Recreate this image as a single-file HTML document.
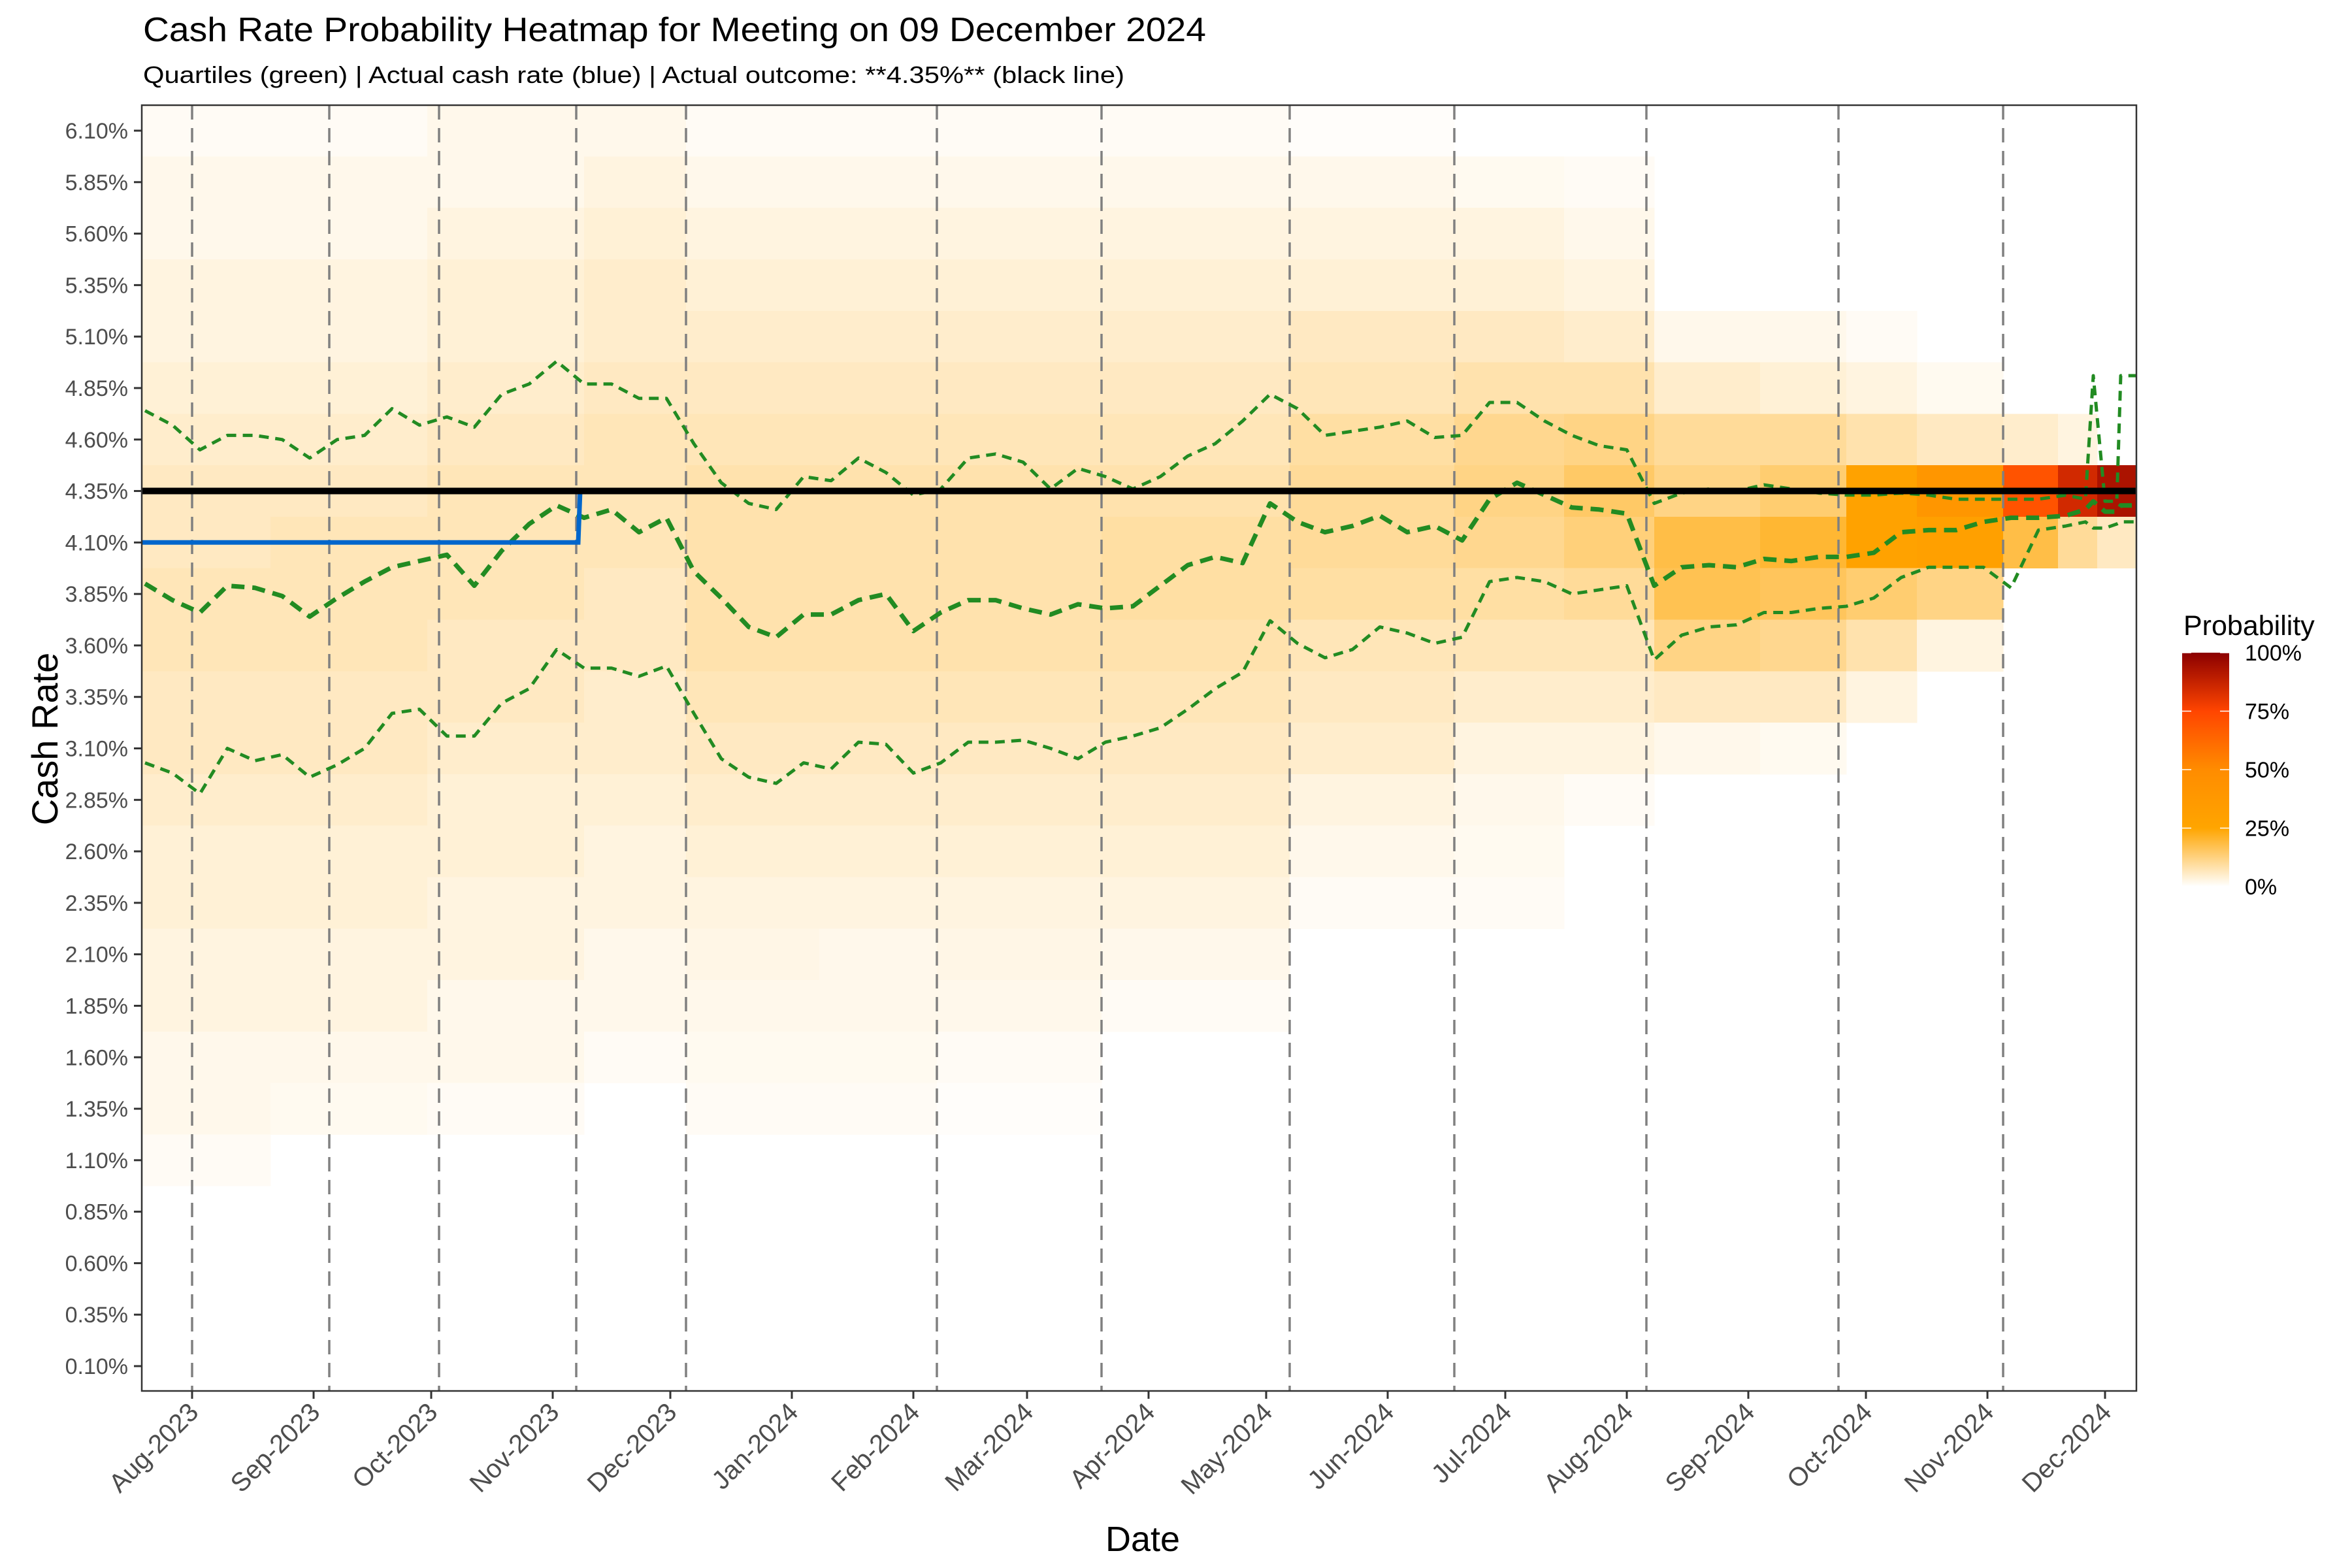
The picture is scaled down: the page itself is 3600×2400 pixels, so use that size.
<!DOCTYPE html>
<html><head><meta charset="utf-8">
<style>
html,body{margin:0;padding:0;background:#fff;}
svg{display:block;font-family:"Liberation Sans",Arial,sans-serif;}
</style></head>
<body>
<svg id="chart" width="3600" height="2400" viewBox="0 0 3600 2400" xmlns="http://www.w3.org/2000/svg">
  <defs>
    <linearGradient id="probGrad" x1="0" y1="1" x2="0" y2="0">
      <stop offset="0" stop-color="#FFFFFF"/>
      <stop offset="0.25" stop-color="#FFA500"/>
      <stop offset="0.5" stop-color="#FF8C00"/>
      <stop offset="0.75" stop-color="#FF4500"/>
      <stop offset="1" stop-color="#8B0000"/>
    </linearGradient>
    <clipPath id="panelClip"><rect x="217" y="161" width="3053" height="1968"/></clipPath>
  </defs>
  <rect width="3600" height="2400" fill="#fff"/>
  <text x="219" y="63" font-size="52" fill="#000" textLength="1627" lengthAdjust="spacingAndGlyphs">Cash Rate Probability Heatmap for Meeting on 09 December 2024</text>
  <text x="219" y="127" font-size="36" fill="#000" textLength="1502" lengthAdjust="spacingAndGlyphs">Quartiles (green) | Actual cash rate (blue) | Actual outcome: **4.35%** (black line)</text>
  <g id="heat" clip-path="url(#panelClip)"></g>
  <g id="vlines" clip-path="url(#panelClip)"></g>
  <g id="series" clip-path="url(#panelClip)"></g>
  <rect x="217" y="161" width="3053" height="1968" fill="none" stroke="#333" stroke-width="2.5"/>
  <g id="yaxis"></g>
  <g id="xaxis"></g>
  <text x="1749" y="2374" font-size="54" text-anchor="middle" fill="#000">Date</text>
  <text transform="translate(88,1131) rotate(-90)" font-size="56" text-anchor="middle" fill="#000">Cash Rate</text>
  <g>
    <text x="3342" y="972" font-size="43" fill="#000">Probability</text>
    <rect x="3340" y="999" width="72" height="358" fill="url(#probGrad)"/>
    <g id="legendTicks"></g>
  </g>
</svg>
<script>
const NS = "http://www.w3.org/2000/svg";
// ---- data ----
const rateBins = [6.10,5.85,5.60,5.35,5.10,4.85,4.60,4.35,4.10,3.85,3.60,3.35,3.10,2.85,2.60,2.35,2.10,1.85,1.60,1.35,1.10,0.85,0.60,0.35,0.10];
const segStartDays = [-13,20,60,100,126,160,190,232,280,322,350,373,400,422,440,462,476,486];
const segEndDay = 497;
const segProbs = [
 [1,2,2,3,3,4,5,6,6,7,7,6,6,5,4,4,3,3,2,2,1,0,0,0,0],
 [1,2,2,3,3,4,5,6,7,7,7,6,6,5,4,4,3,3,2,1.5,0,0,0,0,0],
 [2,2,3,4,4,5,6,7,7,7,6,6,5,4,4,3,3,2,2,1,0,0,0,0,0],
 [2,3,4,5,5,6,7,7,7,6,6,5,5,4,3,3,2,2,1,0,0,0,0,0,0],
 [1,2,3,4,5,6,7,8,8,8,8,7,6,5,4,3,2.5,2,1.5,1,0,0,0,0,0],
 [1,2,3,4,5,6,7,8,8,8,8,7,6,5,4,3,2,2,1.5,1,0,0,0,0,0],
 [1,2,3,4,5,6,7,8,8,8,8,7,6,5,4,3,2.5,2,1,0.5,0,0,0,0,0],
 [1,2,3,4,5,6,7,8,9,9,8,7,6,5,4,3,2,1,0,0,0,0,0,0,0],
 [0.5,2,3,4,6,7,9,10,10,9,7,6,5,3,2,1,0,0,0,0,0,0,0,0,0],
 [0,1.5,3,4,6,8,11,12,11,9,7,5,3,2,1.5,1,0,0,0,0,0,0,0,0,0],
 [0,1,2,3,5,8,12,15,13,10,7,5,3,1,0,0,0,0,0,0,0,0,0,0,0],
 [0,0,0,0,2,5,10,12,18,17,12,6,2,0,0,0,0,0,0,0,0,0,0,0,0],
 [0,0,0,0,2,4,10,14,20,16,11,6,1.5,0,0,0,0,0,0,0,0,0,0,0,0],
 [0,0,0,0,1,3,8,28,28,14,8,3,0,0,0,0,0,0,0,0,0,0,0,0,0],
 [0,0,0,0,0,1.5,6,40,30,12,3,0,0,0,0,0,0,0,0,0,0,0,0,0,0],
 [0,0,0,0,0,0,5,70,18,0,0,0,0,0,0,0,0,0,0,0,0,0,0,0,0],
 [0,0,0,0,0,0,3,85,10,0,0,0,0,0,0,0,0,0,0,0,0,0,0,0,0],
 [0,0,0,0,0,0,0,93,6,0,0,0,0,0,0,0,0,0,0,0,0,0,0,0,0]
];
const quartDays = [-12,-5,2,9,16,23,30,37,44,51,58,65,72,79,86,93,100,107,114,121,128,135,142,149,156,163,170,177,184,191,198,205,212,219,226,233,240,247,254,261,268,275,282,289,296,303,310,317,324,331,338,345,352,359,366,373,380,387,394,401,408,415,422,429,436,443,450,457,464,471,478,483,485,488,491,492,496];
const upperQ = [4.74,4.67,4.55,4.62,4.62,4.60,4.51,4.60,4.62,4.75,4.67,4.71,4.66,4.82,4.87,4.98,4.87,4.87,4.80,4.80,4.58,4.39,4.29,4.26,4.42,4.40,4.51,4.44,4.33,4.36,4.51,4.53,4.49,4.36,4.46,4.42,4.36,4.42,4.52,4.58,4.69,4.82,4.75,4.62,4.64,4.66,4.69,4.61,4.62,4.78,4.78,4.69,4.62,4.57,4.55,4.29,4.34,4.36,4.35,4.38,4.36,4.34,4.33,4.33,4.34,4.33,4.31,4.31,4.31,4.31,4.33,4.31,4.91,4.30,4.30,4.91,4.91];
const medianQ = [3.90,3.82,3.76,3.89,3.88,3.84,3.74,3.83,3.91,3.98,4.01,4.04,3.89,4.06,4.19,4.28,4.22,4.26,4.15,4.22,3.96,3.83,3.69,3.64,3.75,3.75,3.82,3.85,3.67,3.76,3.82,3.82,3.78,3.75,3.80,3.78,3.79,3.89,3.99,4.03,4.00,4.29,4.20,4.15,4.18,4.23,4.15,4.18,4.11,4.31,4.39,4.33,4.27,4.26,4.24,3.89,3.98,3.99,3.98,4.02,4.01,4.03,4.03,4.05,4.15,4.16,4.16,4.20,4.22,4.22,4.23,4.26,4.30,4.25,4.25,4.28,4.28];
const lowerQ = [3.03,2.98,2.88,3.10,3.04,3.07,2.96,3.02,3.10,3.27,3.29,3.16,3.16,3.32,3.39,3.58,3.49,3.49,3.45,3.50,3.27,3.05,2.96,2.93,3.03,3.00,3.13,3.12,2.98,3.03,3.13,3.13,3.14,3.10,3.05,3.13,3.16,3.20,3.29,3.39,3.47,3.72,3.61,3.54,3.58,3.69,3.66,3.61,3.64,3.91,3.93,3.91,3.85,3.87,3.89,3.53,3.65,3.69,3.70,3.76,3.76,3.78,3.79,3.83,3.93,3.98,3.98,3.98,3.88,4.16,4.18,4.20,4.17,4.17,4.19,4.20,4.20];
const actualDays = [-13,98.5,99,497];
const actualRates = [4.10,4.10,4.35,4.35];
const outcomeRate = 4.35;
const meetingDays = [0,35,63,98,126,190,232,280,322,371,420,462];
const yTickValues = [0.10,0.35,0.60,0.85,1.10,1.35,1.60,1.85,2.10,2.35,2.60,2.85,3.10,3.35,3.60,3.85,4.10,4.35,4.60,4.85,5.10,5.35,5.60,5.85,6.10];
const xTickLabels = ["Aug-2023","Sep-2023","Oct-2023","Nov-2023","Dec-2023","Jan-2024","Feb-2024","Mar-2024","Apr-2024","May-2024","Jun-2024","Jul-2024","Aug-2024","Sep-2024","Oct-2024","Nov-2024","Dec-2024"];
const xTickDays = [0,31,61,92,122,153,184,213,244,274,305,335,366,397,427,458,488];
const legendValues = [0,25,50,75,100];
// ---- scales ----
const xS = d => 294 + 6*d;
const yS = r => 2091 - (r-0.10)*(1891/6);
const stops = [[0,[255,255,255]],[0.25,[255,165,0]],[0.5,[255,140,0]],[0.75,[255,69,0]],[1,[139,0,0]]];
function col(p){
  p=Math.max(0,Math.min(1,p));
  for(let i=1;i<stops.length;i++){
    if(p<=stops[i][0]){const a=stops[i-1],b=stops[i];const t=(p-a[0])/(b[0]-a[0]);
      return 'rgb('+a[1].map((c,j)=>Math.round(c+(b[1][j]-c)*t)).join(',')+')';}
  }
  return 'rgb(139,0,0)';
}
function mk(tag,attrs,parent){const e=document.createElementNS(NS,tag);for(const k in attrs)e.setAttribute(k,attrs[k]);parent.appendChild(e);return e;}
// heatmap
const heat=document.getElementById('heat');
const binH=0.25*(1891/6);
segStartDays.forEach((d0,si)=>{
  const d1 = si+1<segStartDays.length?segStartDays[si+1]:segEndDay;
  rateBins.forEach((r,ri)=>{
    const p=segProbs[si][ri];
    if(p<=0) return;
    const x0=xS(d0), x1=xS(d1);
    const c=mk('rect',{x:x0,y:yS(r)-binH/2,width:x1-x0+0.5,height:binH+0.5,fill:col(p/100),'shape-rendering':'crispEdges'},heat);
    
    
  });
});
// meeting lines
const vl=document.getElementById('vlines');
meetingDays.forEach(d=>{
  const l=mk('line',{x1:xS(d),x2:xS(d),y1:161,y2:2129,stroke:'#808080','stroke-width':3.5,'stroke-dasharray':'22 13'},vl);
  
  
});
// series
const sg=document.getElementById('series');
function pathOf(days,vals){return days.map((d,i)=>(i?'L':'M')+xS(d).toFixed(1)+','+yS(vals[i]).toFixed(1)).join('');}
const pu=mk('path',{d:pathOf(quartDays,upperQ),fill:'none',stroke:'#228B22','stroke-width':5,'stroke-dasharray':'15 10','stroke-linejoin':'round'},sg);


const pm=mk('path',{d:pathOf(quartDays,medianQ),fill:'none',stroke:'#228B22','stroke-width':7,'stroke-dasharray':'20 12','stroke-linejoin':'round'},sg);


const pl=mk('path',{d:pathOf(quartDays,lowerQ),fill:'none',stroke:'#228B22','stroke-width':5,'stroke-dasharray':'15 10','stroke-linejoin':'round'},sg);


const pb=mk('path',{d:pathOf(actualDays,actualRates),fill:'none',stroke:'#0066CC','stroke-width':7},sg);


const hl=mk('line',{x1:217,x2:3270,y1:yS(outcomeRate),y2:yS(outcomeRate),stroke:'#000','stroke-width':10},sg);


// y axis
const ya=document.getElementById('yaxis');
yTickValues.forEach(v=>{
  const y=yS(v);
  const t=mk('line',{x1:205,x2:217,y1:y,y2:y,stroke:'#333','stroke-width':3},ya);
  
  
  const tx=mk('text',{x:196,y:y+12,'font-size':34,'text-anchor':'end',fill:'#4d4d4d'},ya);
  tx.textContent=v.toFixed(2)+'%';
  
  
});
// x axis
const xa=document.getElementById('xaxis');
xTickDays.forEach((d,i)=>{
  const x=xS(d);
  const t=mk('line',{x1:x,x2:x,y1:2129,y2:2141,stroke:'#333','stroke-width':3},xa);
  
  
  const tx=mk('text',{transform:'translate('+(x+12)+',2164) rotate(-45)','font-size':40,'text-anchor':'end',fill:'#4d4d4d'},xa);
  tx.textContent=xTickLabels[i];
  
  
});
// legend
const lg=document.getElementById('legendTicks');
legendValues.forEach(v=>{
  const y=1357-(v/100)*358;
  mk('line',{x1:3340,x2:3354,y1:y,y2:y,stroke:'#fff','stroke-width':1.5},lg);
  mk('line',{x1:3398,x2:3412,y1:y,y2:y,stroke:'#fff','stroke-width':1.5},lg);
  const tx=mk('text',{x:3436,y:y+12,'font-size':34,fill:'#000'},lg);
  tx.textContent=v+'%';
  
  
});
</script>
</body></html>
